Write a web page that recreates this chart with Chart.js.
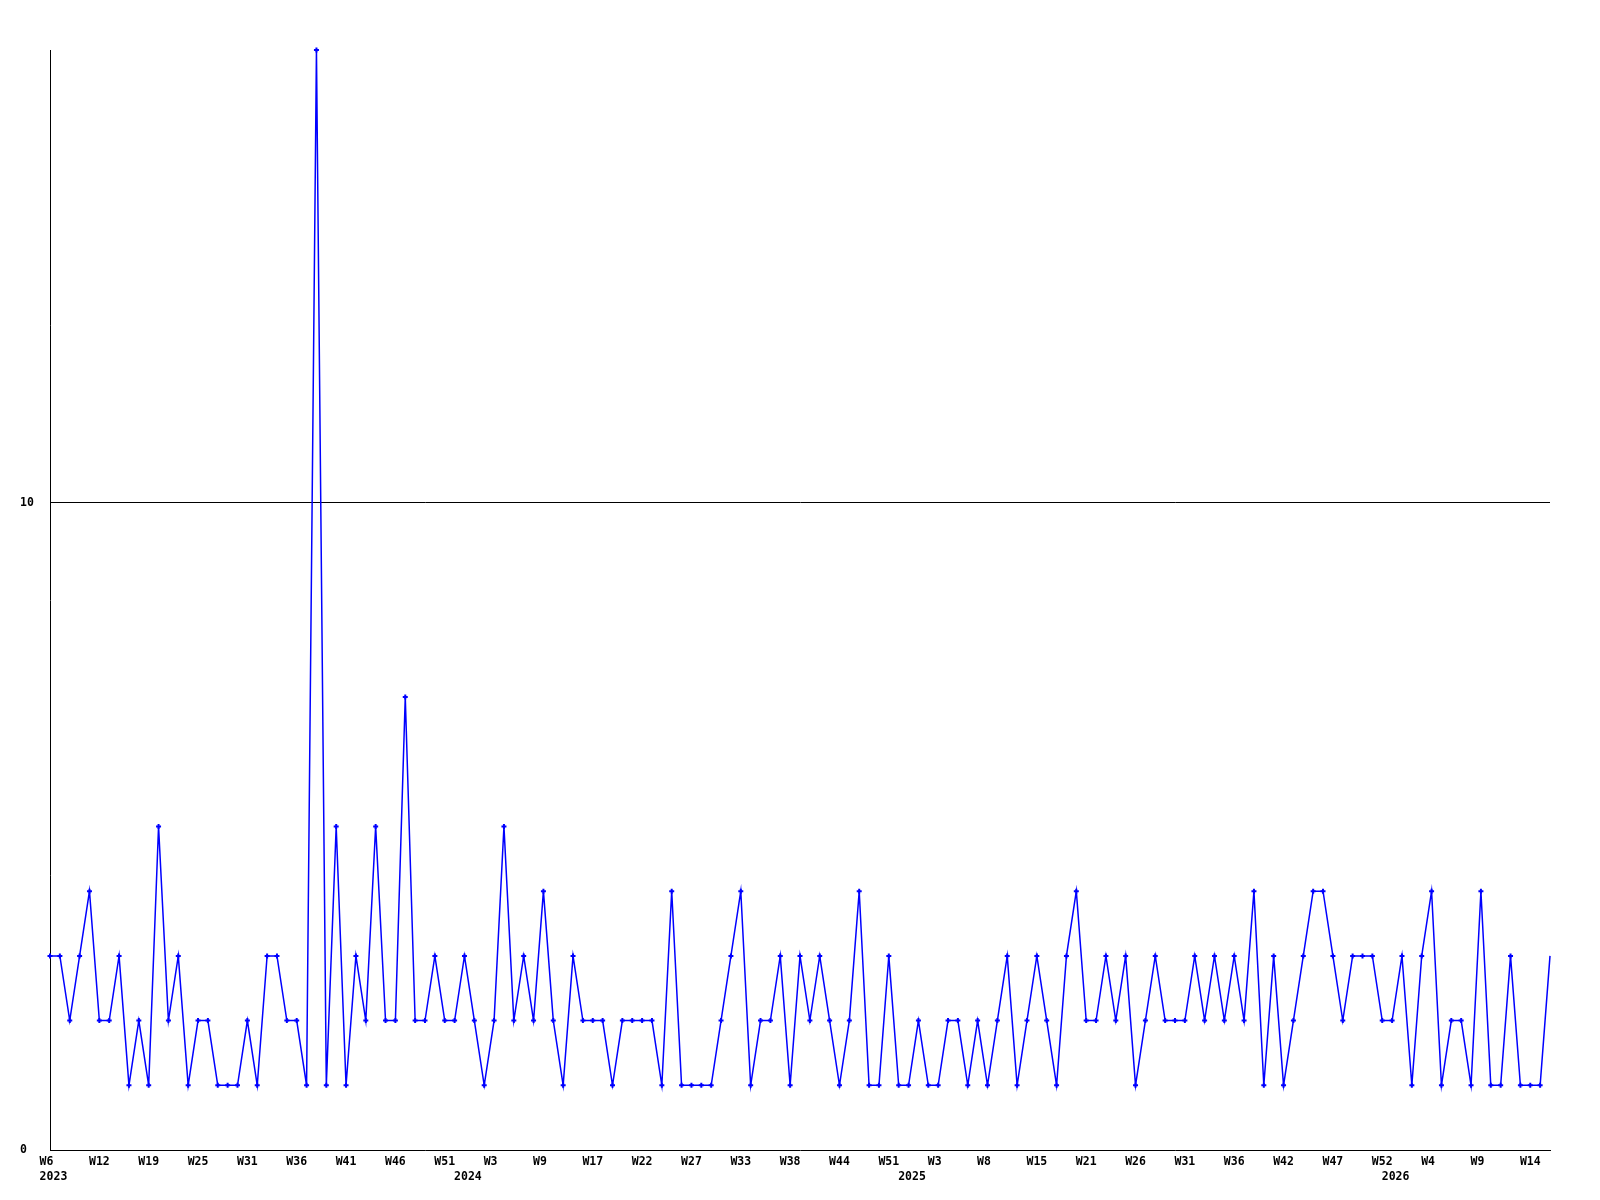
<!DOCTYPE html>
<html lang="en">
<head>
<meta charset="UTF-8">
<title>Weekly count</title>
<script src="https://cdn.jsdelivr.net/npm/chart.js"></script>
<style>
    body {
        margin: 0;
        background: #ffffff;
    }

    .chart-box {
        position: relative;
        width: 1600px;
        height: 1200px;
    }
</style>
</head>
<body>
<div class="chart-box"><canvas id="weekChart"></canvas></div>
<script>
// week of each sample (sunday-based numbering, W0 = first partial week)
const weeks = [
    'W6', 'W7', 'W8', 'W10', 'W11', 'W12', 'W13', 'W15', 'W16', 'W18',
    'W19', 'W20', 'W22', 'W23', 'W24', 'W25', 'W26', 'W27', 'W29', 'W30',
    'W31', 'W32', 'W33', 'W34', 'W35', 'W36', 'W37', 'W38', 'W39', 'W40',
    'W41', 'W42', 'W43', 'W44', 'W45', 'W46', 'W47', 'W48', 'W49', 'W50',
    'W51', 'W52', 'W0', 'W1', 'W2', 'W3', 'W4', 'W5', 'W7', 'W8',
    'W9', 'W11', 'W12', 'W14', 'W16', 'W17', 'W18', 'W19', 'W20', 'W21',
    'W22', 'W23', 'W24', 'W25', 'W26', 'W27', 'W28', 'W30', 'W31', 'W32',
    'W33', 'W34', 'W35', 'W36', 'W37', 'W38', 'W39', 'W40', 'W42', 'W43',
    'W44', 'W45', 'W47', 'W48', 'W50', 'W51', 'W52', 'W0', 'W1', 'W2',
    'W3', 'W4', 'W5', 'W6', 'W7', 'W8', 'W10', 'W11', 'W13', 'W14',
    'W15', 'W16', 'W17', 'W19', 'W20', 'W21', 'W22', 'W23', 'W24', 'W25',
    'W26', 'W27', 'W28', 'W29', 'W30', 'W31', 'W32', 'W33', 'W34', 'W35',
    'W36', 'W37', 'W38', 'W40', 'W41', 'W42', 'W43', 'W44', 'W45', 'W46',
    'W47', 'W48', 'W49', 'W50', 'W51', 'W52', 'W0', 'W1', 'W2', 'W3',
    'W4', 'W5', 'W6', 'W7', 'W8', 'W9', 'W10', 'W11', 'W12', 'W13',
    'W14', 'W15', 'W16'
];
const yearIdx = [0, 42, 87, 136];
const yearLbl = ['2023', '2024', '2025', '2026'];

const counts = [
    3, 3, 2, 3, 4, 2, 2, 3, 1, 2, 1, 5, 2, 3, 1, 2, 2, 1, 1, 1,
    2, 1, 3, 3, 2, 2, 1, 17, 1, 5, 1, 3, 2, 5, 2, 2, 7,
    2, 2, 3, 2, 2, 3, 2, 1, 2, 5, 2, 3, 2, 4, 2, 1, 3, 2, 2, 2,
    1, 2, 2, 2, 2, 1, 4, 1, 1, 1, 1, 2, 3, 4, 1, 2, 2, 3,
    1, 3, 2, 3, 2, 1, 2, 4, 1, 1, 3, 1, 1, 2, 1, 1, 2, 2, 1, 2,
    1, 2, 3, 1, 2, 3, 2, 1, 3, 4, 2, 2, 3, 2, 3, 1, 2,
    3, 2, 2, 2, 3, 2, 3, 2, 3, 2, 4, 1, 3, 1, 2, 3, 4, 4, 3, 2,
    3, 3, 3, 2, 2, 3, 1, 3, 4, 1, 2, 2, 1, 4, 1, 1, 3, 1, 1, 1, 3
];

const yTicks = [0, 10];
const labelEvery = 5;

const axisFont = {
    family: "'DejaVu Sans Mono', monospace",
    size: 11.5,
    weight: 'bold',
    lineHeight: '15px'
};

new Chart(document.getElementById('weekChart'), {
    type: 'line',
    data: {
        labels: weeks,
        datasets: [{
            data: counts,
            borderColor: '#0000ff',
            borderWidth: 1.5,
            tension: 0,
            clip: false,
            pointStyle: 'cross',
            pointRadius: ctx => ctx.dataIndex === counts.length - 1 ? 0 : 2.5,
            pointBorderWidth: 2,
            pointBorderColor: '#0000ff',
            pointBackgroundColor: '#0000ff'
        }]
    },
    options: {
        responsive: true,
        maintainAspectRatio: false,
        animation: false,
        layout: { padding: { left: 20, right: 50, top: 50, bottom: 0 } },
        plugins: {
            legend: { display: false },
            tooltip: { enabled: false }
        },
        scales: {
            x: {
                type: 'category',
                offset: false,
                grid: { display: false, drawTicks: false },
                border: { color: '#000000', width: 1 },
                ticks: {
                    autoSkip: false,
                    maxRotation: 0,
                    minRotation: 0,
                    padding: 5,
                    color: '#000000',
                    font: axisFont,
                    callback: (val, i) => {
                        const y = yearIdx.indexOf(i);
                        const wk = i % labelEvery === 0 ? weeks[i].padEnd(3) : '';
                        if (y < 0 && !wk) return null;
                        return y < 0 ? wk : [wk, ' ' + yearLbl[y]];
                    }
                },
                afterFit: s => { s.height = 50; }
            },
            y: {
                min: 0,
                max: 17,
                afterBuildTicks: s => { s.ticks = yTicks.map(v => ({ value: v })); },
                grid: {
                    drawTicks: false,
                    lineWidth: 1,
                    color: ctx => ctx.tick && ctx.tick.value === 10 ? '#000000' : 'rgba(0,0,0,0)'
                },
                border: { color: '#000000', width: 1 },
                ticks: {
                    crossAlign: 'far',
                    padding: 0,
                    color: '#000000',
                    font: axisFont
                },
                afterFit: s => { s.width = 30; }
            }
        }
    }
});
</script>
</body>
</html>
